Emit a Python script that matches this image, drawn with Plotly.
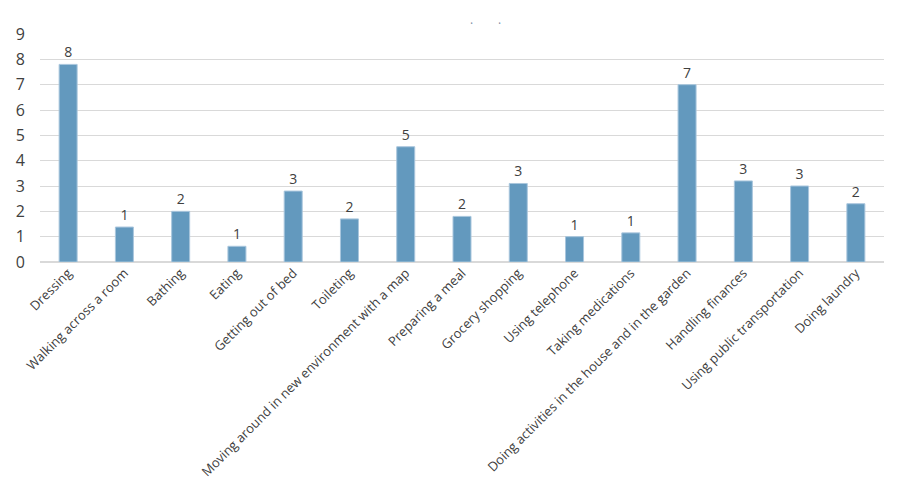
import plotly.graph_objects as go

categories = ["Dressing", "Walking across a room", "Bathing", "Eating", "Getting out of bed",
              "Toileting", "Moving around in new environment with a map", "Preparing a meal",
              "Grocery shopping", "Using telephone", "Taking medications",
              "Doing activities in the house and in the garden", "Handling finances",
              "Using public transportation", "Doing laundry"]
values = [7.8, 1.38, 2.0, 0.62, 2.8, 1.7, 4.55, 1.8, 3.1, 1.0, 1.15, 7.0, 3.2, 3.0, 2.3]
labels = ["8", "1", "2", "1", "3", "2", "5", "2", "3", "1", "1", "7", "3", "3", "2"]
y_ticks = list(range(0, 10))

fig = go.Figure(go.Bar(
    x=categories, y=values, text=labels, textposition="outside",
    textfont=dict(size=14, color="#404040", family="Open Sans, sans-serif"),
    marker=dict(color="#6399BE", line=dict(color="#A9C6DD", width=1)),
    cliponaxis=False,
))

fig.update_layout(
    width=918, height=502,
    margin=dict(l=40, r=34, t=34, b=240),
    plot_bgcolor="white", paper_bgcolor="white",
    bargap=0.68,
    showlegend=False,
    font=dict(family="Open Sans, sans-serif", color="#404040"),
)
for xp in [(472 - 40) / 844, (499 - 40) / 844]:
    fig.add_annotation(text="·", x=xp, xref="paper", y=1 + 21 / 228, yref="paper",
                       showarrow=False, font=dict(size=12, color="#7f8fa6"))
fig.update_xaxes(tickangle=-45, tickfont=dict(size=13, color="#404040", family="Open Sans, sans-serif"),
                 showgrid=False, showline=False, ticks="")
fig.update_yaxes(range=[0, 9], tickvals=y_ticks, tickfont=dict(size=16, color="#404040"),
                 showgrid=True, gridcolor="#D9D9D9", gridwidth=1,
                 zeroline=True, zerolinecolor="#D9D9D9", ticks="", ticklabelstandoff=14)

fig.write_html("out.html")
